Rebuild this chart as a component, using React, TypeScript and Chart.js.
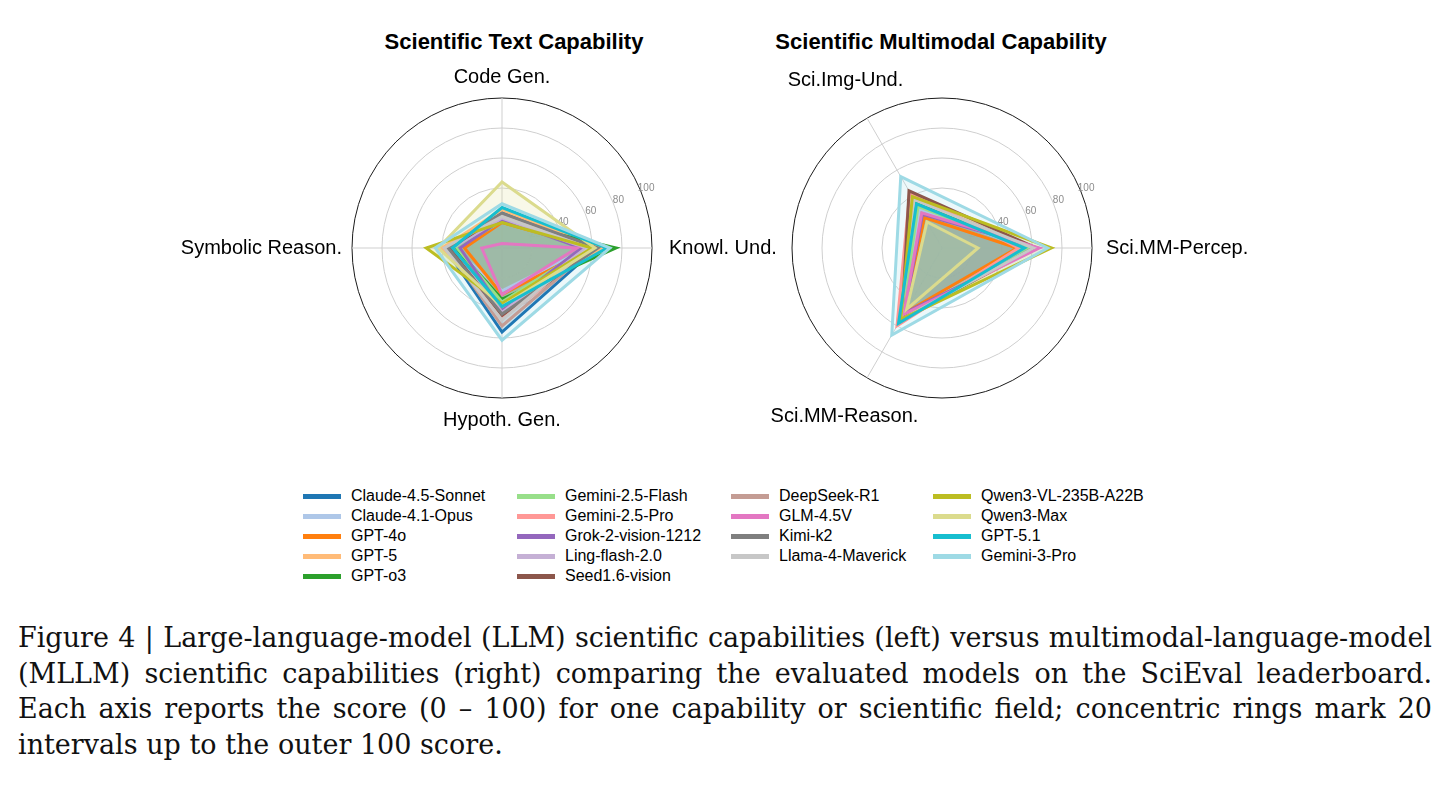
import { useEffect, useRef } from 'react';
import { Chart, registerables } from 'chart.js';

Chart.register(...registerables);

// Models on the leaderboard, in legend order, with their tab20 colours
const models = [
  'Claude-4.5-Sonnet', 'Claude-4.1-Opus', 'GPT-4o', 'GPT-5', 'GPT-o3',
  'Gemini-2.5-Flash', 'Gemini-2.5-Pro', 'Grok-2-vision-1212', 'Ling-flash-2.0', 'Seed1.6-vision',
  'DeepSeek-R1', 'GLM-4.5V', 'Kimi-k2', 'Llama-4-Maverick',
  'Qwen3-VL-235B-A22B', 'Qwen3-Max', 'GPT-5.1', 'Gemini-3-Pro',
];
const colors = [
  '#1f77b4', '#aec7e8', '#ff7f0e', '#ffbb78', '#2ca02c',
  '#98df8a', '#ff9896', '#9467bd', '#c5b0d5', '#8c564b',
  '#c49c94', '#e377c2', '#7f7f7f', '#c7c7c7',
  '#bcbd22', '#dbdb8d', '#17becf', '#9edae5',
];

// Text capability axes (clockwise from the top)
const textAxes = ['Code Gen.', 'Knowl. Und.', 'Hypoth. Gen.', 'Symbolic Reason.'];
const codeGen = [24, 19, 17, 25.5, 18, 18, 21.5, 19, 20, 22, 22.5, 3, 23, 21, 17, 44, 27, 29.5];
const knowlUnd = [63, 57, 60, 66, 76, 56, 62, 53, 56, 63, 61, 50, 64, 58, 60, 62, 70, 72];
const hypothGen = [56, 28.5, 31, 42, 34, 36, 47, 41, 43, 45, 52, 31, 44, 48, 37, 39, 39, 61.5];
const symbolicReason = [38, 32, 25, 40, 31, 30, 37, 28, 33, 35, 37, 13.5, 36, 38.5, 50.5, 42.5, 33, 44.5];

// Multimodal capability axes (clockwise from the right); null = not evaluated
const mmAxes = ['Sci.MM-Percep.', 'Sci.MM-Reason.', 'Sci.Img-Und.'];
const mmPercep = [58, 56, 50, 62, 61, 57, 51, 64, null, 63, null, 65, null, 61, 73, 24, 55, 70.5];
const mmReason = [56, 53, 50, 57, 56, 53, 60, 50, null, 53, null, 51, null, 55, 55, 47, 58, 67];
const imgUnd = [35, 30, 23.5, 37, 36, 32, 43, 26, null, 44, null, 27, null, 37, 39.5, 20, 34, 55];

const ringTicks = [20, 40, 60, 80, 100];

const SANS = '"Liberation Sans", Arial, Helvetica, sans-serif';

function rgba(hex: string, a: number) {
  const n = parseInt(hex.slice(1), 16);
  return `rgba(${(n >> 16) & 255}, ${(n >> 8) & 255}, ${n & 255}, ${a})`;
}

// Draws the ring values along a fixed ray and the axis names around the frame
const polarDecor = {
  id: 'polarDecor',
  beforeDatasetsDraw(chart: any, _args: any, opts: any) {
    const s = chart.scales.r;
    const ctx = chart.ctx;
    ctx.save();
    ctx.font = `10px ${SANS}`;
    ctx.fillStyle = '#8c8c8c';
    ctx.textAlign = 'center';
    ctx.textBaseline = 'middle';
    const a = (opts.tickAngle * Math.PI) / 180;
    for (const v of ringTicks) {
      const d = s.getDistanceFromCenterForValue(v) + 6;
      ctx.fillText(String(v), s.xCenter + d * Math.cos(a), s.yCenter - d * Math.sin(a));
    }
    ctx.restore();
  },
  afterDatasetsDraw(chart: any, _args: any, opts: any) {
    const s = chart.scales.r;
    const ctx = chart.ctx;
    ctx.save();
    ctx.font = `20px ${SANS}`;
    ctx.fillStyle = '#000';
    ctx.textBaseline = 'middle';
    opts.labels.forEach((lab: any, i: number) => {
      const p = s.getPointPosition(i, lab.dist);
      ctx.textAlign = lab.align;
      ctx.fillText(chart.data.labels[i], p.x, p.y);
    });
    ctx.restore();
  },
};

// Translucent areas go underneath; every outline is drawn above all of the areas
function buildDatasets(series: (number | null)[][]) {
  const areas: any[] = [];
  const outlines: any[] = [];
  models.forEach((name, i) => {
    const vals = series.map((s) => s[i]);
    if (vals.some((v) => v === null)) return;
    areas.push({
      label: name + ' area',
      data: vals,
      borderWidth: 0,
      borderColor: 'rgba(0,0,0,0)',
      backgroundColor: rgba(colors[i], 0.2),
      fill: true,
      pointRadius: 0,
      order: 200 - i,
    });
    outlines.push({
      label: name,
      data: vals,
      borderColor: colors[i],
      borderWidth: 3,
      fill: false,
      pointRadius: 0,
      order: 100 - i,
    });
  });
  return [...areas, ...outlines];
}

type RadarProps = {
  labels: string[];
  series: (number | null)[][];
  startAngle: number;
  width: number;
  height: number;
  padding: { left: number; right: number; top: number; bottom: number };
  labelPlacement: { dist: number; align: string }[];
  style: any;
};

function RadarPanel(props: RadarProps) {
  const ref = useRef<HTMLCanvasElement>(null);
  useEffect(() => {
    const chart = new Chart(ref.current as HTMLCanvasElement, {
      type: 'radar',
      data: { labels: props.labels, datasets: buildDatasets(props.series) },
      options: {
        animation: false,
        responsive: false,
        maintainAspectRatio: false,
        layout: { padding: props.padding },
        plugins: {
          legend: { display: false },
          tooltip: { enabled: false },
          polarDecor: { tickAngle: 22.5, labels: props.labelPlacement },
        } as any,
        elements: { line: { tension: 0 }, point: { radius: 0 } },
        scales: {
          r: {
            min: 0,
            max: 100,
            startAngle: props.startAngle,
            ticks: { display: false, stepSize: 20 },
            pointLabels: { display: false },
            grid: {
              circular: true,
              color: (c: any) => (c.tick && c.tick.value === 100 ? '#1a1a1a' : '#cfcfcf'),
              lineWidth: 1,
            },
            angleLines: { color: '#cfcfcf', lineWidth: 1 },
          },
        },
      },
      plugins: [polarDecor],
    } as any);
    return () => chart.destroy();
  }, []);
  return (
    <canvas
      ref={ref}
      width={props.width}
      height={props.height}
      style={{ position: 'absolute', width: props.width, height: props.height, ...props.style }}
    />
  );
}

const legendColX = [303, 517, 731, 933];
const legendRowY = [496, 516, 536, 556, 576];
const legendPerCol = [5, 5, 4, 4];

const captionLines = [
  'Figure 4 | Large-language-model (LLM) scientific capabilities (left) versus multimodal-language-model',
  '(MLLM) scientific capabilities (right) comparing the evaluated models on the SciEval leaderboard.',
  'Each axis reports the score (0 \u2013 100) for one capability or scientific field; concentric rings mark 20',
  'intervals up to the outer 100 score.',
];
const captionY = [638, 674, 709, 745];

export default function App() {
  const legendItems: any[] = [];
  let k = 0;
  legendPerCol.forEach((count, c) => {
    for (let r = 0; r < count; r++, k++) {
      legendItems.push(
        <div
          key={models[k]}
          style={{
            position: 'absolute',
            left: legendColX[c],
            top: legendRowY[r] - 10,
            height: 20,
            display: 'flex',
            alignItems: 'center',
            whiteSpace: 'nowrap',
          }}
        >
          <div style={{ width: 38, height: 5, background: colors[k] }} />
          <span style={{ marginLeft: 10, fontFamily: SANS, fontSize: 16, color: '#000' }}>{models[k]}</span>
        </div>
      );
    }
  });

  const titleStyle: any = {
    position: 'absolute',
    top: 30,
    transform: 'translateX(-50%)',
    fontFamily: SANS,
    fontWeight: 'bold',
    fontSize: 22,
    lineHeight: '24px',
    whiteSpace: 'nowrap',
  };

  return (
    <div
      style={{
        position: 'fixed',
        left: 0,
        top: 0,
        width: 1451,
        height: 798,
        background: '#fff',
        overflow: 'hidden',
      }}
    >
      <div style={{ ...titleStyle, left: 514 }}>Scientific Text Capability</div>
      <div style={{ ...titleStyle, left: 941 }}>Scientific Multimodal Capability</div>

      <RadarPanel
        labels={textAxes}
        series={[codeGen, knowlUnd, hypothGen, symbolicReason]}
        startAngle={0}
        width={790}
        height={470}
        padding={{ left: 352, right: 138, top: 98, bottom: 72 }}
        labelPlacement={[
          { dist: 171, align: 'center' },
          { dist: 167, align: 'left' },
          { dist: 172, align: 'center' },
          { dist: 160, align: 'right' },
        ]}
        style={{ left: 0, top: 0 }}
      />
      <RadarPanel
        labels={mmAxes}
        series={[mmPercep, mmReason, imgUnd]}
        startAngle={90}
        width={691}
        height={470}
        padding={{ left: 32, right: 359, top: 98, bottom: 72 }}
        labelPlacement={[
          { dist: 164, align: 'left' },
          { dist: 195, align: 'center' },
          { dist: 193, align: 'center' },
        ]}
        style={{ left: 760, top: 0 }}
      />

      {legendItems}

      {captionLines.map((line, i) => (
        <div
          key={i}
          style={{
            position: 'absolute',
            left: 18,
            width: 1414,
            top: captionY[i] - 18,
            height: 36,
            lineHeight: '36px',
            fontFamily: '"DejaVu Serif", "Liberation Serif", serif',
            fontSize: 27,
            color: '#111',
            textAlign: i < 3 ? 'justify' : 'left',
            textAlignLast: i < 3 ? 'justify' : 'left',
          } as any}
        >
          {line}
        </div>
      ))}
    </div>
  );
}
